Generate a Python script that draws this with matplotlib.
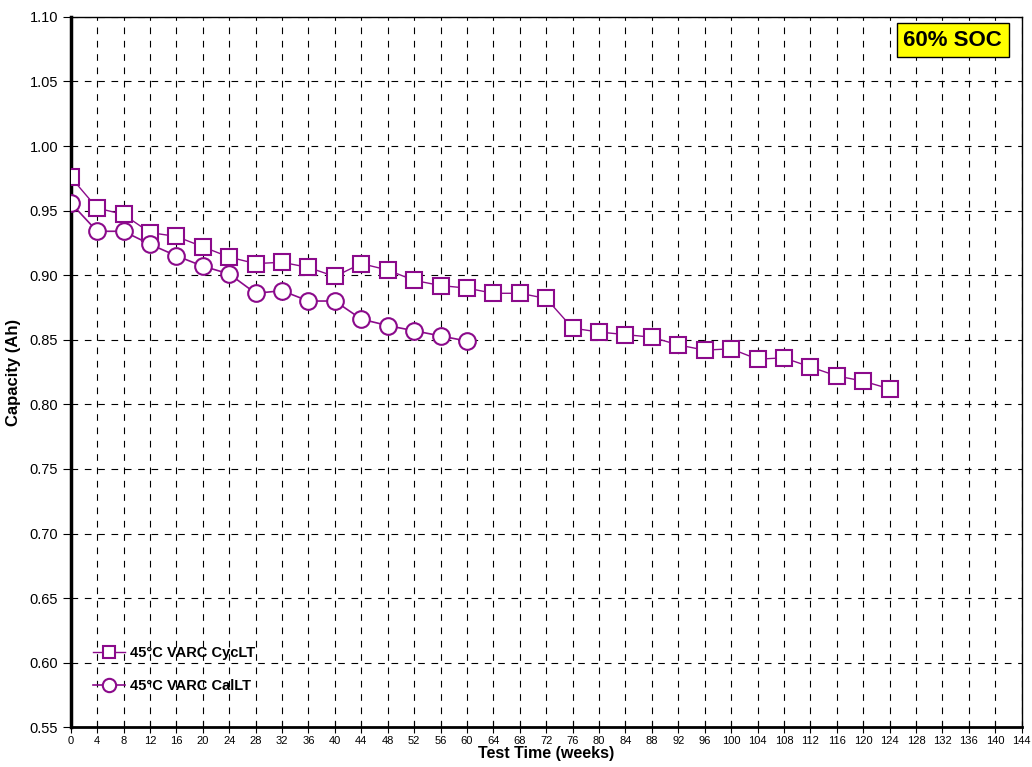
import matplotlib.pyplot as plt
import numpy as np

plt.rcParams['font.family'] = ['Liberation Sans', 'DejaVu Sans']

# data
cyc_weeks = [0, 4, 8, 12, 16, 20, 24, 28, 32, 36, 40, 44, 48, 52, 56, 60,
             64, 68, 72, 76, 80, 84, 88, 92, 96, 100, 104, 108, 112, 116, 120, 124]
cyc_cap = [0.976, 0.952, 0.947, 0.933, 0.930, 0.922, 0.914, 0.909, 0.910, 0.906,
           0.899, 0.909, 0.904, 0.896, 0.892, 0.890, 0.886, 0.886, 0.882, 0.859,
           0.856, 0.854, 0.852, 0.846, 0.842, 0.843, 0.835, 0.836, 0.829, 0.822,
           0.818, 0.812]
cal_weeks = [0, 4, 8, 12, 16, 20, 24, 28, 32, 36, 40, 44, 48, 52, 56, 60]
cal_cap = [0.956, 0.934, 0.934, 0.924, 0.915, 0.907, 0.901, 0.886, 0.888, 0.880,
           0.880, 0.866, 0.861, 0.857, 0.853, 0.849]

purple = '#8B0A8B'

fig = plt.figure(figsize=(10.32, 7.67), dpi=100)
ax = fig.add_axes([0.0685, 0.0518, 0.9215, 0.9262])

ax.plot(cyc_weeks, cyc_cap, color=purple, lw=1, marker='s', ms=11,
        mfc='white', mec=purple, mew=1.5, label='45°C VARC CycLT', zorder=3)
ax.plot(cal_weeks, cal_cap, color=purple, lw=1.2, marker='o', ms=12,
        mfc='white', mec=purple, mew=1.5, label='45°C VARC CalLT', zorder=3)

ax.set_xlim(0, 144)
ax.set_ylim(0.55, 1.10)
ax.set_xticks(np.arange(0, 145, 4))
ax.set_yticks(np.arange(0.55, 1.101, 0.05))
ax.yaxis.set_major_formatter(plt.FormatStrFormatter('%.2f'))
ax.tick_params(axis='x', direction='inout', length=8, labelsize=8, pad=2)
ax.tick_params(axis='y', direction='out', length=6, labelsize=10.5, pad=3)
ax.grid(True, color='black', linestyle=(0, (6, 6)), linewidth=0.8)
ax.set_axisbelow(True)

ax.spines['left'].set_linewidth(2.5)
ax.spines['bottom'].set_linewidth(2)
ax.spines['top'].set_linewidth(1)
ax.spines['right'].set_linewidth(1)

ax.set_xlabel('Test Time (weeks)', fontsize=11.5, fontweight='bold', labelpad=0)
ax.set_ylabel('Capacity (Ah)', fontsize=12, fontweight='bold', labelpad=6)

leg = ax.legend(loc='lower left', bbox_to_anchor=(0.01, 0.03), frameon=False,
                prop={'weight': 'bold', 'size': 10.5}, handlelength=2.2,
                handletextpad=0.3, labelspacing=1.3, markerscale=0.8)

ax.text(0.9275, 0.967, '60% SOC', transform=ax.transAxes, ha='center', va='center',
        fontsize=16, fontweight='bold',
        bbox=dict(boxstyle='square,pad=0.3', facecolor='yellow', edgecolor='black', lw=1))

fig.savefig('out.png', dpi=100)
